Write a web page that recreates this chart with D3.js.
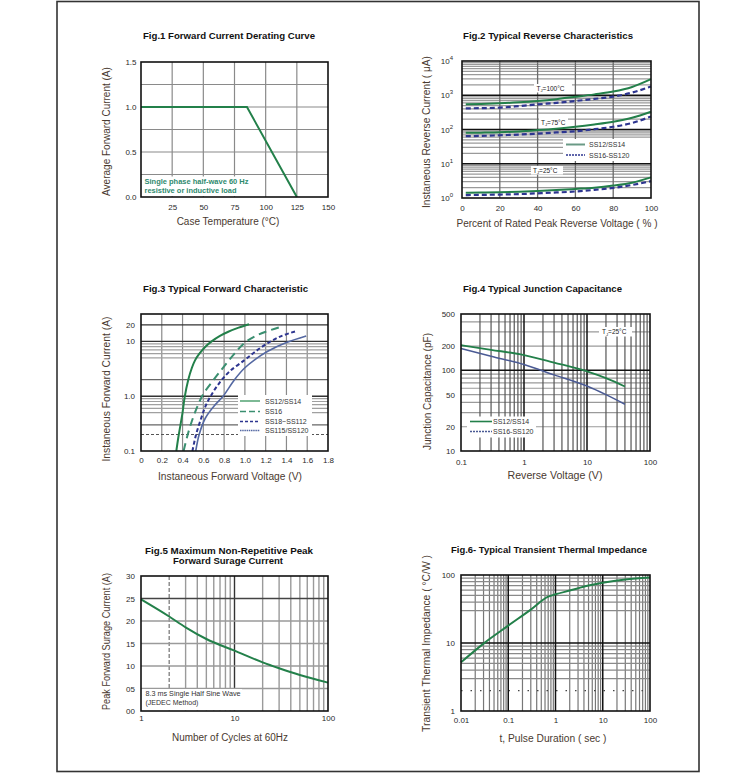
<!DOCTYPE html>
<html><head><meta charset="utf-8">
<script src="https://cdn.jsdelivr.net/npm/d3@7"></script>
<style>body{margin:0;background:#fff} svg text{font-family:"Liberation Sans",Arial,sans-serif}</style>
</head><body><svg id="c" width="755" height="781"></svg>
<script>
// ---------------- DATA ----------------
// Fig.1
const fig1Temp = [0, 85, 125];
const fig1Current = [1.0, 1.0, 0.0];
const fig1XTicks = [25, 50, 75, 100, 125, 150];
const fig1YTicks = [0, 0.5, 1.0, 1.5];
const fig1YLabels = ["0.0", "0.5", "1.0", "1.5"];
// Fig.2
const fig2Pct = [2, 10, 20, 30, 40, 50, 60, 70, 80, 90, 100];
const fig2Ss12_100 = [545, 555, 580, 620, 680, 770, 900, 1060, 1280, 1750, 2950];
const fig2Ss16_100 = [415, 420, 435, 480, 540, 600, 680, 780, 910, 1200, 1800];
const fig2Ss12_75 = [80, 81, 83, 88, 96, 106, 120, 140, 168, 220, 330];
const fig2Ss16_75 = [64, 65, 68, 71, 76, 82, 89, 102, 120, 155, 240];
const fig2Ss12_25 = [1.43, 1.45, 1.48, 1.53, 1.6, 1.7, 1.84, 2.0, 2.3, 2.8, 4.0];
const fig2Ss16_25 = [1.22, 1.23, 1.26, 1.3, 1.37, 1.45, 1.55, 1.72, 1.97, 2.4, 3.1];
const fig2XTicks = [0, 20, 40, 60, 80, 100];
const fig2YTicks = [1, 10, 100, 1000, 10000];
const fig2YExp = ["0", "1", "2", "3", "4"];
const fig2TempLabels = ["=100°C", "=75°C", "=25°C"];
const fig2Legend = ["SS12/SS14", "SS16-SS120"];
// Fig.3
const fig3V_ss12 = [0.34, 0.36, 0.38, 0.40, 0.42, 0.455, 0.49, 0.52, 0.56, 0.62, 0.68, 0.76, 0.84, 0.94, 1.04];
const fig3I_ss12 = [0.1, 0.18, 0.3, 0.5, 0.95, 2.0, 3.3, 4.5, 5.9, 8.0, 10, 12.6, 15, 17.8, 20.5];
const fig3V_ss16 = [0.41, 0.45, 0.50, 0.55, 0.60, 0.70, 0.80, 0.90, 1.00, 1.10, 1.20, 1.33];
const fig3I_ss16 = [0.1, 0.2, 0.4, 0.7, 1.1, 2.0, 3.5, 6.0, 9.5, 12.5, 15, 18];
const fig3V_ss18 = [0.495, 0.53, 0.58, 0.62, 0.67, 0.75, 0.85, 1.00, 1.10, 1.22, 1.35, 1.50];
const fig3I_ss18 = [0.1, 0.2, 0.4, 0.65, 1.0, 1.7, 2.8, 4.6, 6.5, 9.3, 12.5, 15.5];
const fig3V_ss115 = [0.527, 0.56, 0.62, 0.70, 0.79, 0.90, 1.00, 1.10, 1.22, 1.40, 1.59];
const fig3I_ss115 = [0.1, 0.2, 0.4, 0.65, 1.0, 2.0, 3.3, 4.7, 6.6, 9.5, 12.5];
const fig3XTicks = [0, 0.2, 0.4, 0.6, 0.8, 1.0, 1.2, 1.4, 1.6, 1.8];
const fig3XLabels = ["0", "0.2", "0.4", "0.6", "0.8", "1.0", "1.2", "1.4", "1.6", "1.8"];
const fig3YTicks = [0.1, 1, 10, 20];
const fig3YLabels = ["0.1", "1.0", "10", "20"];
const fig3Legend = ["SS12/SS14", "SS16", "SS18~SS112", "SS115/SS120"];
// Fig.4
const fig4V = [0.1, 0.3, 1, 3, 10, 20, 40];
const fig4C_ss12 = [205, 180, 155, 125, 97, 80, 63];
const fig4C_ss16 = [187, 150, 118, 88, 64, 50, 38];
const fig4XTicks = [0.1, 1, 10, 100];
const fig4XLabels = ["0.1", "1", "10", "100"];
const fig4YTicks = [10, 20, 50, 100, 200, 500];
const fig4YLabels = ["10", "20", "50", "100", "200", "500"];
const fig4Legend = ["SS12/SS14", "SS16-SS120"];
// Fig.5
const fig5Cycles = [1, 2, 3, 5, 10, 20, 30, 50, 100];
const fig5Current = [24.8, 21, 18.6, 16, 13.4, 10.8, 9.5, 8, 6.3];
const fig5XTicks = [1, 10, 100];
const fig5XLabels = ["1", "10", "100"];
const fig5YTicks = [0, 5, 10, 15, 20, 25, 30];
const fig5YLabels = ["00", "05", "10", "15", "20", "25", "30"];
// Fig.6
const fig6Time = [0.01, 0.03, 0.1, 0.3, 0.7, 1, 2, 5, 10, 30, 100];
const fig6Imp = [5.2, 9.8, 18, 31, 48, 52, 59, 70, 77, 86, 92];
const fig6XTicks = [0.01, 0.1, 1, 10, 100];
const fig6XLabels = ["0.01", "0.1", "1", "10", "100"];
const fig6YTicks = [1, 10, 100];
const fig6YLabels = ["1", "10", "100"];

// ---------------- HELPERS ----------------
const svg = d3.select("#c");
const GREEN = "#23804a", NAVY = "#2d3590", TEAL = "#3a8f70", STEEL = "#5468a2";
const TXT = "#2a2a2a", TITLE_C = "#4a3a30";

function minors(lo, hi, ks) {
  const out = [];
  for (let e = Math.floor(Math.log10(lo)); e <= Math.ceil(Math.log10(hi)); e++) {
    (ks || [2,3,4,5,6,7,8,9]).forEach(k => { const v = k * Math.pow(10, e); if (v > lo * 1.0001 && v < hi * 0.9999) out.push(v); });
  }
  return out;
}
function hLines(g, vals, y, x0, x1, color, w, dash) {
  g.append("g").selectAll("line").data(vals).join("line")
    .attr("x1", x0).attr("x2", x1).attr("y1", d => y(d)).attr("y2", d => y(d))
    .attr("stroke", color).attr("stroke-width", w).attr("stroke-dasharray", dash || null);
}
function vLines(g, vals, x, y0, y1, color, w, dash) {
  g.append("g").selectAll("line").data(vals).join("line")
    .attr("y1", y0).attr("y2", y1).attr("x1", d => x(d)).attr("x2", d => x(d))
    .attr("stroke", color).attr("stroke-width", w).attr("stroke-dasharray", dash || null);
}
function curve(g, xs, ys, x, y, color, w, dash, ctype) {
  const pts = xs.map((v, i) => [v, ys[i]]);
  g.append("path").datum(pts)
    .attr("d", d3.line().x(d => x(d[0])).y(d => y(d[1])).curve(ctype || d3.curveMonotoneX))
    .attr("fill", "none").attr("stroke", color).attr("stroke-width", w)
    .attr("stroke-dasharray", dash || null).attr("stroke-linecap", "butt");
}
function frame(g, x, y) {
  const [a, b] = x.range(), [c, d] = y.range();
  g.append("rect").attr("x", Math.min(a, b)).attr("y", Math.min(c, d))
    .attr("width", Math.abs(b - a)).attr("height", Math.abs(d - c))
    .attr("fill", "none").attr("stroke", "#111").attr("stroke-width", 1.6);
}
function styleAxis(sel) {
  sel.select(".domain").remove();
  sel.attr("font-family", null).attr("font-size", null);
  sel.selectAll("text").attr("font-size", 8).attr("fill", TXT);
}
function axB(g, x, yPos, vals, labels, pad) {
  g.append("g").attr("transform", `translate(0,${yPos})`)
    .call(d3.axisBottom(x).tickValues(vals).tickFormat((d, i) => labels[i]).tickSize(0).tickPadding(pad))
    .call(styleAxis);
}
function axL(g, y, xPos, vals, labels, pad) {
  return g.append("g").attr("transform", `translate(${xPos},0)`)
    .call(d3.axisLeft(y).tickValues(vals).tickFormat((d, i) => labels[i]).tickSize(0).tickPadding(pad))
    .call(styleAxis);
}
function txt(g, s, x, y, o) {
  o = o || {};
  const t = g.append("text").attr("x", x).attr("y", y).text(s)
    .attr("font-size", o.size || 10).attr("fill", o.fill || TXT)
    .attr("text-anchor", o.anchor || "start").attr("font-weight", o.bold ? "bold" : null);
  if (o.len) t.attr("textLength", o.len).attr("lengthAdjust", "spacingAndGlyphs");
  return t;
}
function title(g, s, x, y, len) {
  return txt(g, s, x, y, { size: 9.5, bold: true, fill: "#111", len: len });
}
function rotTxt(g, s, x, y, len) {
  const t = g.append("text").attr("transform", `translate(${x},${y}) rotate(-90)`)
    .attr("text-anchor", "middle").attr("font-size", 10).attr("fill", TITLE_C).text(s);
  if (len) t.attr("textLength", len).attr("lengthAdjust", "spacingAndGlyphs");
}
function whiteBox(g, x, y, w, h) {
  g.append("rect").attr("x", x).attr("y", y).attr("width", w).attr("height", h).attr("fill", "#fff");
}
function tjLabel(g, x, y, rest, size) {
  const t = g.append("text").attr("x", x).attr("y", y).attr("font-size", size).attr("fill", "#222");
  t.append("tspan").text("T");
  t.append("tspan").attr("font-size", size * 0.65).attr("dy", 1.5).text("J");
  t.append("tspan").attr("dy", -1.5).text(rest);
}

// outer frame
svg.append("rect").attr("x", 57).attr("y", 1.5).attr("width", 642).attr("height", 770)
  .attr("fill", "none").attr("stroke", "#333").attr("stroke-width", 1.6);

// ---------------- FIG 1 ----------------
{
  const g = svg.append("g");
  const x = d3.scaleLinear([0, 150], [141, 328]);
  const y = d3.scaleLinear([0, 1.5], [197, 62]);
  vLines(g, [25, 50, 75, 100, 125], x, 62, 197, "#8a8a8a", 1.2);
  hLines(g, [0.25, 0.5, 0.75, 1.0, 1.25], y, 141, 328, "#8a8a8a", 1.2);
  whiteBox(g, 142, 176.5, 111, 19.5);
  txt(g, "Single phase half-wave 60 Hz", 144.5, 184, { size: 7, bold: true, fill: "#2e8a6e", len: 104 });
  txt(g, "resistive or inductive load", 144.5, 192.5, { size: 7, bold: true, fill: "#2e8a6e", len: 92 });
  curve(g, fig1Temp, fig1Current, x, y, GREEN, 2, null, d3.curveLinear);
  frame(g, x, y);
  axB(g, x, 197, fig1XTicks, fig1XTicks.map(String), 7);
  axL(g, y, 141, fig1YTicks, fig1YLabels, 4.5);
  title(g, "Fig.1  Forward Current Derating Curve", 143, 39, 172);
  txt(g, "Case Temperature (°C)", 228, 225, { anchor: "middle", fill: TITLE_C });
  rotTxt(g, "Average Forward Current (A)", 110, 131.5);
}

// ---------------- FIG 2 ----------------
{
  const g = svg.append("g");
  const x = d3.scaleLinear([0, 100], [462, 651]);
  const y = d3.scaleLog([1, 1e4], [198, 61]);
  hLines(g, minors(1, 1e4), y, 462, 651, "#9a9a9a", 1.2);
  vLines(g, [20, 40, 60, 80], x, 61, 198, "#6a6a6a", 1.3);
  hLines(g, [10, 100, 1000], y, 462, 651, "#111", 1.5);
  [[534, 84, 38, 8.5], [539, 118, 29, 8.5], [531, 166, 32, 8.5]].forEach(b => whiteBox(g, b[0], b[1], b[2], b[3]));
  tjLabel(g, 536.5, 90.5, fig2TempLabels[0], 6.5);
  tjLabel(g, 541, 124.5, fig2TempLabels[1], 6.5);
  tjLabel(g, 533, 172.5, fig2TempLabels[2], 6.5);
  whiteBox(g, 563, 139, 88, 22);
  curve(g, fig2Pct, fig2Ss12_100, x, y, GREEN, 2);
  curve(g, fig2Pct, fig2Ss16_100, x, y, NAVY, 2.2, "5,3");
  curve(g, fig2Pct, fig2Ss12_75, x, y, GREEN, 2);
  curve(g, fig2Pct, fig2Ss16_75, x, y, NAVY, 2.2, "5,3");
  curve(g, fig2Pct, fig2Ss12_25, x, y, GREEN, 2);
  curve(g, fig2Pct, fig2Ss16_25, x, y, NAVY, 2.2, "5,3");
  g.append("line").attr("x1", 566).attr("x2", 585).attr("y1", 144.5).attr("y2", 144.5).attr("stroke", "#6a9a86").attr("stroke-width", 2);
  g.append("line").attr("x1", 566).attr("x2", 585).attr("y1", 155).attr("y2", 155).attr("stroke", NAVY).attr("stroke-width", 1.6).attr("stroke-dasharray", "2,1");
  txt(g, fig2Legend[0], 589, 147.3, { size: 7, fill: "#333" });
  txt(g, fig2Legend[1], 589, 157.8, { size: 7, fill: "#333" });
  frame(g, x, y);
  axB(g, x, 198, fig2XTicks, fig2XTicks.map(String), 7);
  const ay = axL(g, y, 462, fig2YTicks, fig2YTicks.map(() => "10"), 9);
  ay.selectAll(".tick text").each(function (d, i) {
    d3.select(this).append("tspan").attr("dy", -4).attr("font-size", 6).text(fig2YExp[i]);
  });
  title(g, "Fig.2  Typical Reverse Characteristics", 463, 39, 170);
  txt(g, "Percent of Rated Peak Reverse Voltage ( % )", 557, 227, { anchor: "middle", fill: TITLE_C, len: 201 });
  rotTxt(g, "Instaneous Reverse Current ( μA)", 430, 132, 152);
}

// ---------------- FIG 3 ----------------
{
  const g = svg.append("g");
  const x = d3.scaleLinear([0, 1.8], [141, 328]);
  const y = d3.scaleLog([0.1, 31.6], [451, 314]);
  vLines(g, [0.2, 0.4, 0.6, 0.8, 1.0, 1.2, 1.4, 1.6], x, 314, 451, "#8a8a8a", 1.2);
  hLines(g, [0.5, 0.6, 0.7, 0.8, 0.9, 5, 6, 7, 8, 9], y, 141, 328, "#a0a0a0", 1.2);
  hLines(g, [0.3, 2], y, 141, 328, "#666", 1.2);
  hLines(g, [0.2], y, 141, 328, "#555", 1.2, "3,2");
  hLines(g, [1, 10, 20], y, 141, 328, "#333", 1.4);
  whiteBox(g, 238, 395, 74, 41);
  curve(g, fig3V_ss12, fig3I_ss12, x, y, GREEN, 2, null, d3.curveCatmullRom);
  curve(g, fig3V_ss16, fig3I_ss16, x, y, TEAL, 2, "8,5", d3.curveCatmullRom);
  curve(g, fig3V_ss18, fig3I_ss18, x, y, NAVY, 2, "4,2.5", d3.curveCatmullRom);
  curve(g, fig3V_ss115, fig3I_ss115, x, y, STEEL, 1.6, null, d3.curveCatmullRom);
  const ly = [401, 411.5, 421.5, 430.5];
  const lstyle = [["#6fb28a", 1.8, null], [TEAL, 1.5, "6,3"], [NAVY, 1.5, "3,2"], [STEEL, 1.5, "1.5,0.7"]];
  ly.forEach((yy, i) => {
    g.append("line").attr("x1", 240).attr("x2", 260).attr("y1", yy).attr("y2", yy)
      .attr("stroke", lstyle[i][0]).attr("stroke-width", lstyle[i][1]).attr("stroke-dasharray", lstyle[i][2]);
    txt(g, fig3Legend[i], 265, yy + 2.5, { size: 7, fill: "#333" });
  });
  frame(g, x, y);
  axB(g, x, 451, fig3XTicks, fig3XLabels, 6);
  axL(g, y, 141, fig3YTicks, fig3YLabels, 6);
  title(g, "Fig.3  Typical Forward Characteristic", 143, 292, 165);
  txt(g, "Instaneous Forward Voltage (V)", 230, 480, { anchor: "middle", fill: TITLE_C, len: 144 });
  rotTxt(g, "Instaneous Forward Current  (A)", 110, 389, 145);
}

// ---------------- FIG 4 ----------------
{
  const g = svg.append("g");
  const x = d3.scaleLog([0.1, 100], [461, 650]);
  const y = d3.scaleLog([10, 500], [451, 314]);
  hLines(g, minors(10, 500), y, 461, 650, "#9a9a9a", 1.2);
  vLines(g, minors(0.1, 100), x, 314, 451, "#555", 1.2);
  vLines(g, [1, 10], x, 314, 451, "#111", 1.5);
  hLines(g, [100], y, 461, 650, "#111", 1.5);
  whiteBox(g, 599, 327, 33, 9.5);
  tjLabel(g, 602, 334, "=25°C", 6.5);
  whiteBox(g, 467, 416.5, 69, 21);
  curve(g, fig4V, fig4C_ss12, x, y, GREEN, 1.8);
  curve(g, fig4V, fig4C_ss16, x, y, "#4a5a94", 1.5);
  g.append("line").attr("x1", 470).attr("x2", 492).attr("y1", 421.5).attr("y2", 421.5).attr("stroke", GREEN).attr("stroke-width", 1.6);
  g.append("line").attr("x1", 470).attr("x2", 492).attr("y1", 431.5).attr("y2", 431.5).attr("stroke", "#4a5a94").attr("stroke-width", 1.3).attr("stroke-dasharray", "2,1");
  txt(g, fig4Legend[0], 493, 424, { size: 7, fill: "#333" });
  txt(g, fig4Legend[1], 493, 434, { size: 7, fill: "#333" });
  frame(g, x, y);
  axB(g, x, 451, fig4XTicks, fig4XLabels, 8);
  axL(g, y, 461, fig4YTicks, fig4YLabels, 6);
  title(g, "Fig.4  Typical Junction Capacitance", 463, 292, 159);
  txt(g, "Reverse  Voltage (V)", 555, 478.5, { anchor: "middle", fill: TITLE_C, len: 95 });
  rotTxt(g, "Junction Capacitance (pF)", 431, 391.5, 117);
}

// ---------------- FIG 5 ----------------
{
  const g = svg.append("g");
  const x = d3.scaleLog([1, 100], [141, 328]);
  const y = d3.scaleLinear([0, 30], [711, 576]);
  vLines(g, minors(1, 100, [3,4,5,6,7,8,9]).concat([20]), x, 576, 711, "#9a9a9a", 1.4);
  vLines(g, [2], x, 576, 711, "#555", 1, "4,2");
  vLines(g, [10], x, 576, 711, "#333", 1.4);
  hLines(g, [5, 10, 15, 20], y, 141, 328, "#9a9a9a", 1.4);
  hLines(g, [25], y, 141, 328, "#444", 1.5);
  whiteBox(g, 142, 689, 100, 21.5);
  txt(g, "8.3 ms Single Half Sine Wave", 145.5, 696, { size: 7, fill: "#333", len: 95 });
  txt(g, "(JEDEC Method)", 145.5, 705, { size: 7, fill: "#333" });
  curve(g, fig5Cycles, fig5Current, x, y, GREEN, 2);
  frame(g, x, y);
  axB(g, x, 711, fig5XTicks, fig5XLabels, 4);
  axL(g, y, 141, fig5YTicks, fig5YLabels, 6);
  title(g, "Fig.5  Maximum Non-Repetitive Peak", 145, 554, 168);
  title(g, "Forward Surage Current", 173, 564, 110);
  txt(g, "Number of Cycles at 60Hz", 230, 740.5, { anchor: "middle", fill: TITLE_C, len: 116 });
  rotTxt(g, "Peak Forward Surage Current (A)", 110, 641.5, 137);
}

// ---------------- FIG 6 ----------------
{
  const g = svg.append("g");
  const x = d3.scaleLog([0.01, 100], [461, 650]);
  const y = d3.scaleLog([1, 100], [711, 575]);
  vLines(g, minors(0.01, 100), x, 575, 711, "#777", 1.2);
  hLines(g, minors(1, 100, [3,4,5,6,7,8,9]), y, 461, 650, "#8a8a8a", 1.2);
  hLines(g, [2], y, 461, 650, "#444", 1.2, "1.5,8");
  vLines(g, [0.1, 1, 10], x, 575, 711, "#111", 1.5);
  hLines(g, [10], y, 461, 650, "#111", 1.5);
  curve(g, fig6Time, fig6Imp, x, y, GREEN, 2);
  frame(g, x, y);
  axB(g, x, 711, fig6XTicks, fig6XLabels, 6);
  axL(g, y, 461, fig6YTicks, fig6YLabels, 6);
  title(g, "Fig.6- Typical Transient Thermal Impedance", 451, 553, 196);
  txt(g, "t, Pulse Duration ( sec )", 553, 741.5, { anchor: "middle", fill: TITLE_C, len: 107 });
  rotTxt(g, "Transient Thermal Impedance ( °C/W )", 430, 643.5, 177);
}
</script></body></html>
